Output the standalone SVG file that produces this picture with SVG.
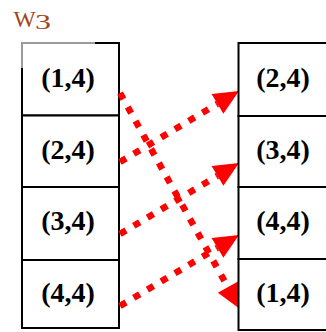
<svg xmlns="http://www.w3.org/2000/svg" width="326" height="332" viewBox="0 0 326 332">
<style>
.box{fill:#ffffff;stroke:#000000;stroke-width:2}
.lbl{font-family:"Liberation Serif","Times New Roman",serif;font-weight:bold;font-size:28px;fill:#000000;text-anchor:middle}
.title{font-family:"Liberation Serif","Times New Roman",serif;fill:#A0461E}
.arr{fill:none;stroke:#ff0000;stroke-width:6.5;stroke-dasharray:7 9;marker-end:url(#head)}
</style>
<defs>
<marker id="head" viewBox="0 -12 25 24" markerWidth="25" markerHeight="24" refX="0" refY="0" orient="auto" markerUnits="userSpaceOnUse" overflow="visible">
<path d="M0,-11.5 L25,0 L0,11.5 z" fill="#ff0000"/>
</marker>
</defs>
<g id="title">
<text class="title" x="13.5" y="26.7" font-size="23.5">W</text>
<text class="title" transform="translate(35,29.3) scale(1.6,1)" x="0" y="0" font-size="20">3</text>
</g>
<g id="left">
<g id="L1"><rect class="box" x="22" y="43" width="97" height="72.5"/><text class="lbl" x="68" y="87.3">(1,4)</text></g>
<g id="L2"><rect class="box" x="22" y="115.5" width="97" height="71.5"/><text class="lbl" x="68" y="158.5">(2,4)</text></g>
<g id="L3"><rect class="box" x="22" y="187" width="97" height="73"/><text class="lbl" x="68" y="230">(3,4)</text></g>
<g id="L4"><rect class="box" x="22" y="260" width="97" height="68"/><text class="lbl" x="68" y="301.5">(4,4)</text></g>
<path d="M21,43 H95 M22,43 V68" stroke="#9a9a9a" stroke-width="2" fill="none"/>
</g>
<g id="connectors">
<line class="arr" x1="120" y1="93" x2="227.9" y2="287.2"/>
<line class="arr" x1="120" y1="162" x2="217.5" y2="103.8"/>
<line class="arr" x1="120" y1="234" x2="217.5" y2="175.8"/>
<line class="arr" x1="120" y1="306" x2="217.5" y2="247.8"/>
</g>
<g id="right">
<g id="R1"><rect class="box" x="238.5" y="43" width="97" height="73"/><text class="lbl" x="283" y="87.3">(2,4)</text></g>
<g id="R2"><rect class="box" x="238.5" y="116" width="97" height="71"/><text class="lbl" x="283" y="158.5">(3,4)</text></g>
<g id="R3"><rect class="box" x="238.5" y="187" width="97" height="72"/><text class="lbl" x="283" y="230">(4,4)</text></g>
<g id="R4"><rect class="box" x="238.5" y="259" width="97" height="71"/><text class="lbl" x="283" y="301.5">(1,4)</text></g>
</g>
</svg>
